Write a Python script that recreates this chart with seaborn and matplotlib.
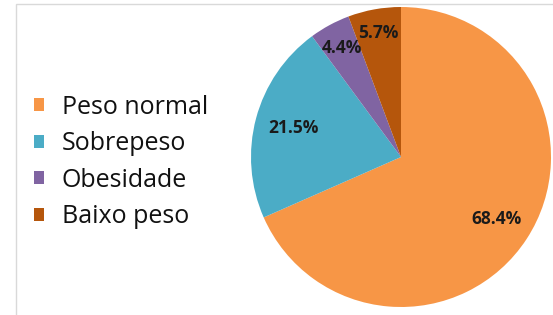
import matplotlib
matplotlib.use("Agg")
import matplotlib.pyplot as plt
import seaborn as sns
from matplotlib.patches import Rectangle, Patch
import numpy as np

categories = ["Peso normal", "Sobrepeso", "Obesidade", "Baixo peso"]
values = [68.4, 21.5, 4.4, 5.7]
labels = ["68.4%", "21.5%", "4.4%", "5.7%"]
colors = ["#F79646", "#4BACC6", "#8064A2", "#B5560C"]
label_dist = [0.76, 0.74, 0.83, 0.84]

sns.set_theme(style="white")
plt.rcParams['font.family'] = ['Open Sans', 'DejaVu Sans']

W, H = 553, 315
fig = plt.figure(figsize=(W / 100, H / 100), dpi=100)
fig.patch.set_facecolor("white")

# frame
fig.add_artist(Rectangle((16 / W, -0.1), 1.2, (H - 4) / H + 0.1, transform=fig.transFigure,
                         fill=False, edgecolor="#D9D9D9", linewidth=1.0))

cx, cy, R = 401, 157, 150
ax = fig.add_axes([(cx - R) / W, (H - cy - R) / H, 2 * R / W, 2 * R / H])
wedges, _ = ax.pie(values, colors=colors, startangle=90, counterclock=False,
                   radius=1, wedgeprops=dict(linewidth=0))
for w, lab, d in zip(wedges, labels, label_dist):
    ang = np.deg2rad((w.theta1 + w.theta2) / 2)
    ax.text(d * np.cos(ang), d * np.sin(ang), lab, ha="center", va="center",
            fontsize=12.5, fontweight="bold", color="#1A1A1A")
ax.set_xlim(-1, 1)
ax.set_ylim(-1, 1)
ax.set_aspect("equal")
ax.axis("off")

handles = [Patch(facecolor=c, edgecolor="none") for c in colors]
leg = fig.legend(handles, categories, loc="center left", bbox_to_anchor=(34 / W, 1 - 162 / H),
                 frameon=False, fontsize=18, handlelength=0.4, handleheight=0.4,
                 handletextpad=0.7, labelspacing=0.46, borderpad=0, borderaxespad=0)
for t in leg.get_texts():
    t.set_color("#111111")

fig.savefig("out.png", dpi=100, facecolor="white")
